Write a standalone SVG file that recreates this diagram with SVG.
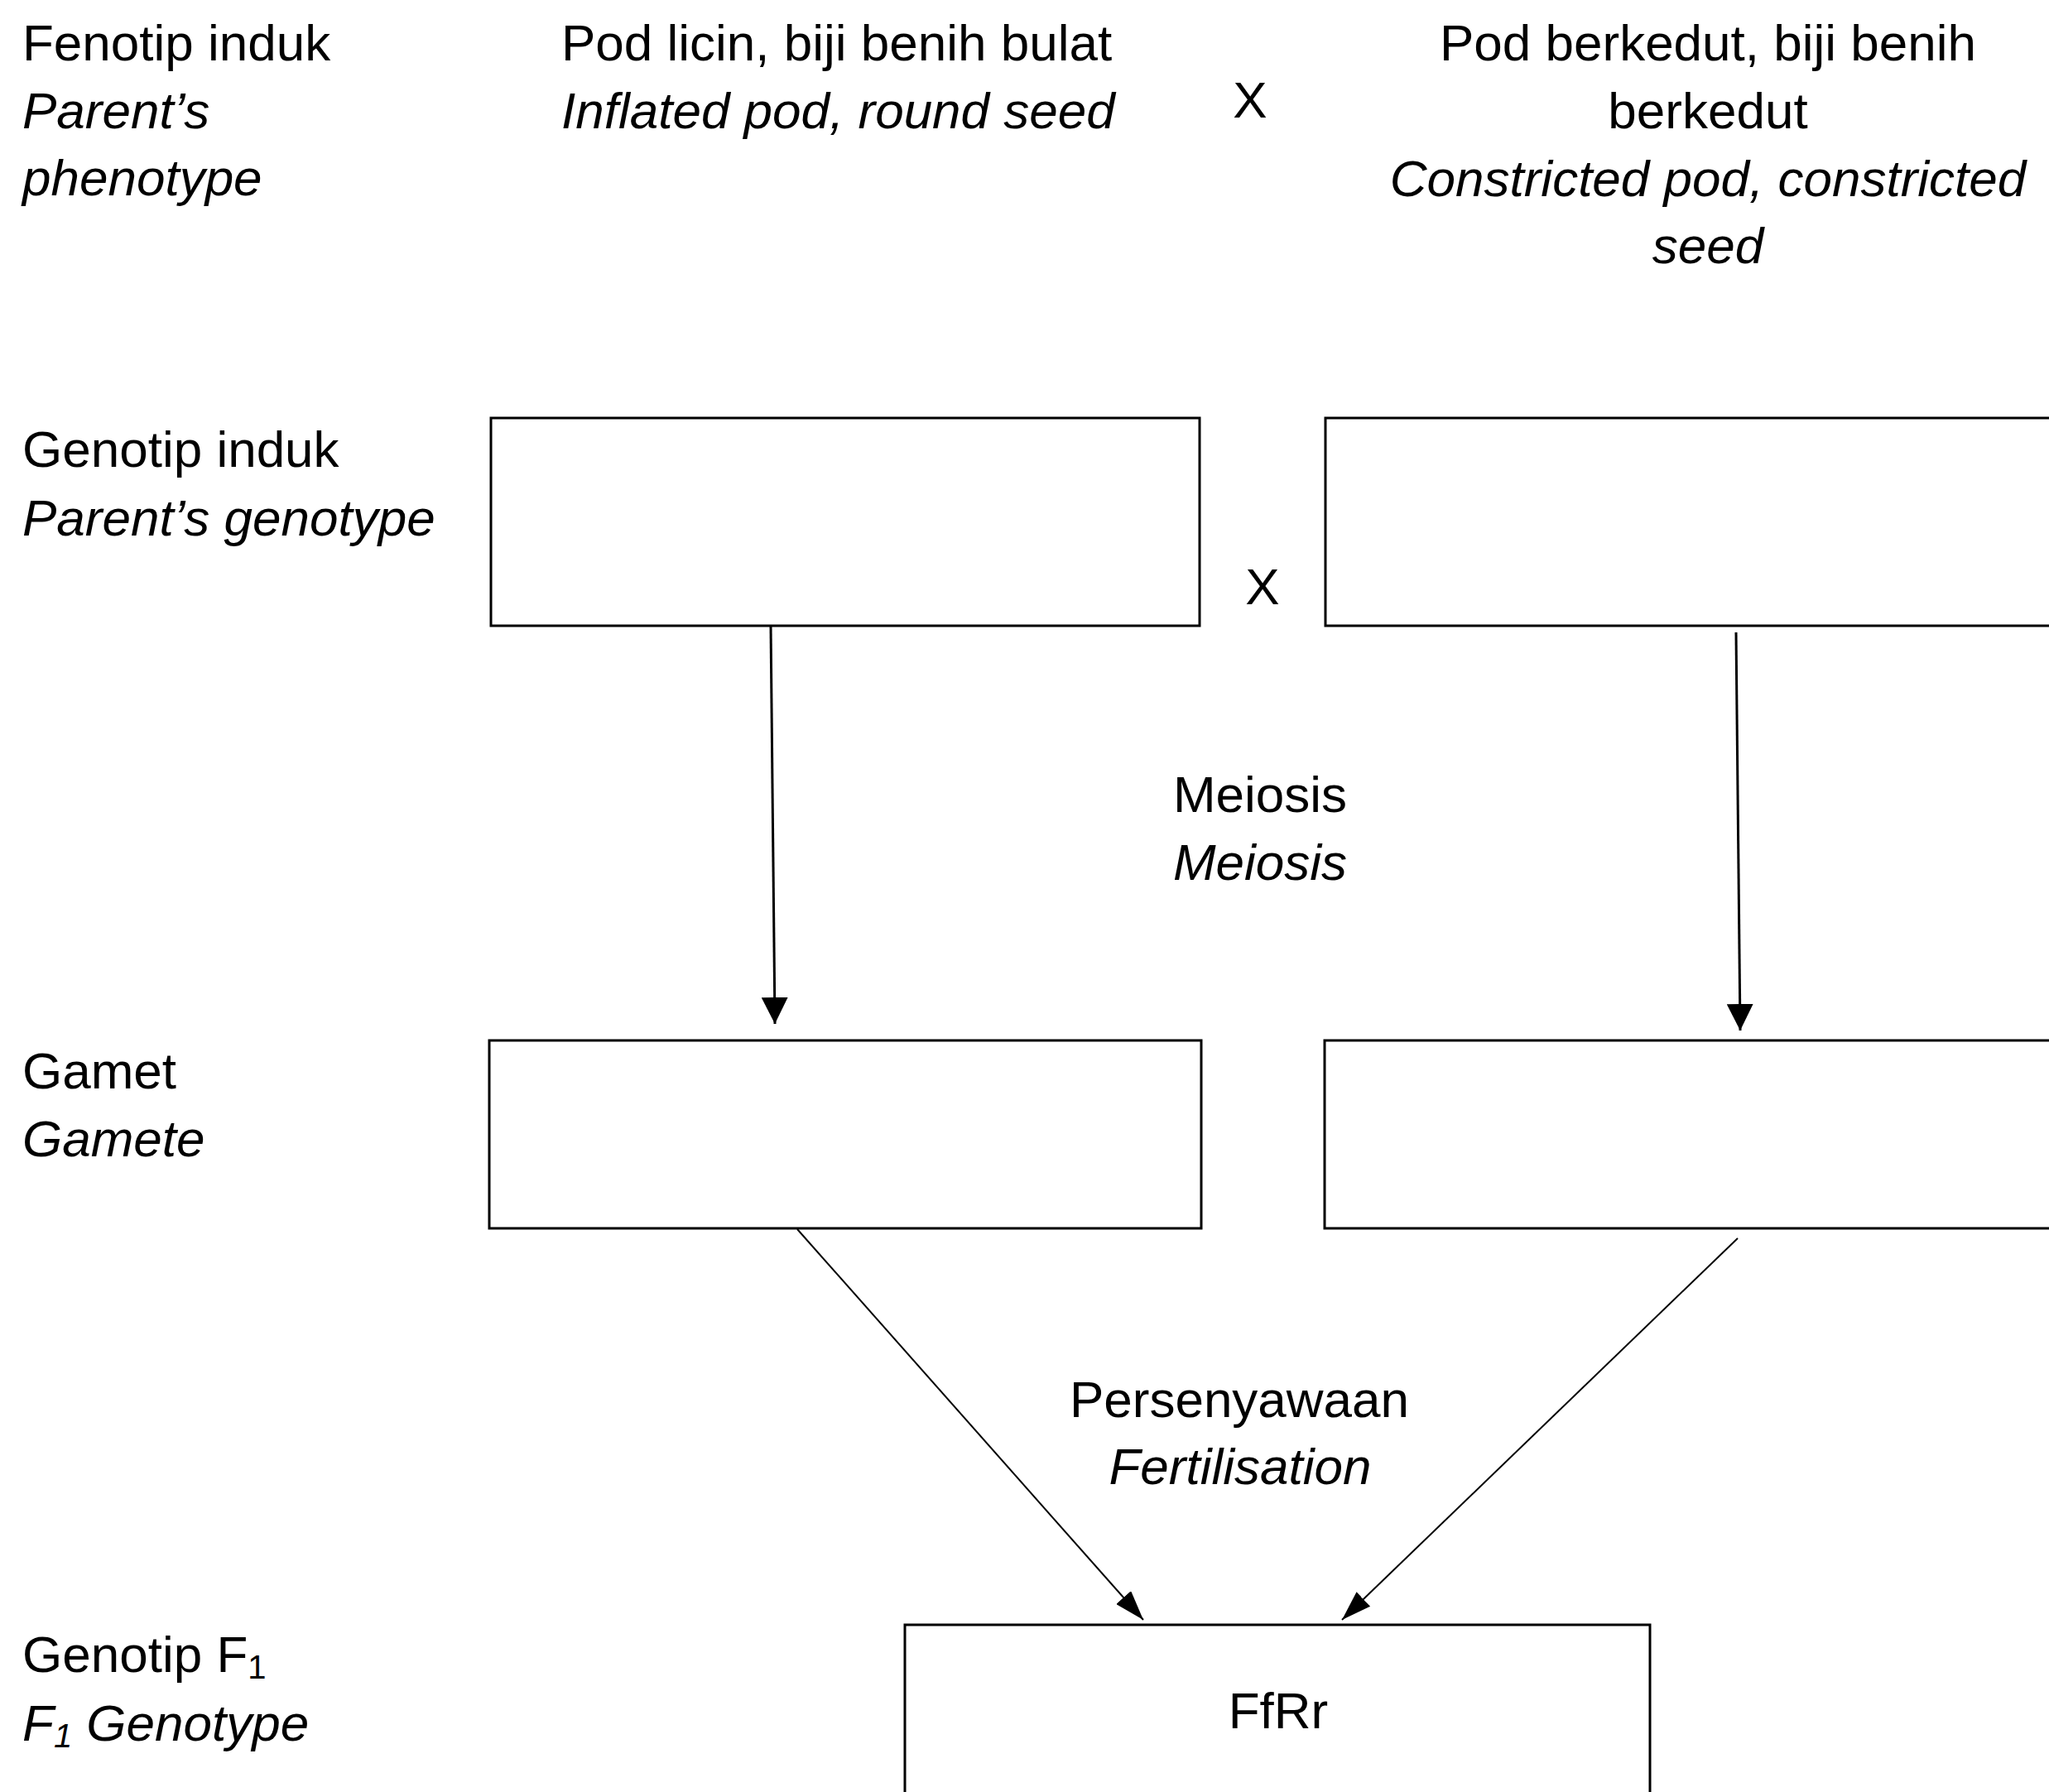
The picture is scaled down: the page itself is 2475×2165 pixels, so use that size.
<svg xmlns="http://www.w3.org/2000/svg" width="2475" height="2165" viewBox="0 0 2475 2165">
<defs>
<style>
text{font-family:"Liberation Sans",Arial,sans-serif;font-size:62px;fill:#000}
.i{font-style:italic}
.c{text-anchor:middle}
.box{fill:#fff;stroke:#000;stroke-width:3}
.v{stroke:#000;stroke-width:3;fill:none}
.d{stroke:#000;stroke-width:2;fill:none}
.sub{font-size:40px}
</style>
<marker id="ah" markerUnits="userSpaceOnUse" markerWidth="32" markerHeight="32" refX="32" refY="16" orient="auto">
<path d="M0,0 L32,16 L0,32 z" fill="#000"/>
</marker>
<marker id="ahs" markerUnits="userSpaceOnUse" markerWidth="36" markerHeight="24" refX="36" refY="12" orient="auto">
<path d="M0,0 L36,12 L0,24 z" fill="#000"/>
</marker>
</defs>
<rect width="2475" height="2165" fill="#fff"/>
<g id="labels">
<text x="27" y="73">Fenotip induk</text>
<text x="27" y="155" class="i">Parent’s</text>
<text x="27" y="236" class="i">phenotype</text>
<text x="27" y="564">Genotip induk</text>
<text x="27" y="647" class="i">Parent’s genotype</text>
<text x="27" y="1315">Gamet</text>
<text x="27" y="1397" class="i">Gamete</text>
<text x="27" y="2020">Genotip F<tspan class="sub" dy="8">1</tspan></text>
<text x="27" y="2103" class="i">F<tspan class="sub" dy="8">1</tspan><tspan dy="-8"> Genotype</tspan></text>
</g>
<g id="phenotype-left">
<text x="678" y="73">Pod licin, biji benih bulat</text>
<text x="678" y="155" class="i">Inflated pod, round seed</text>
</g>
<g id="cross-top"><text x="1510" y="142" class="c">X</text></g>
<g id="phenotype-right">
<text x="2063" y="73" class="c">Pod berkedut, biji benih</text>
<text x="2063" y="155" class="c">berkedut</text>
<text x="2063" y="237" class="c i">Constricted pod, constricted</text>
<text x="2063" y="318" class="c i">seed</text>
</g>
<g id="genotype-left"><rect class="box" x="593" y="505" width="856" height="251"/></g>
<g id="cross-mid"><text x="1525" y="730" class="c">X</text></g>
<g id="genotype-right"><rect class="box" x="1601" y="505" width="900" height="251"/></g>
<g id="meiosis-label">
<text x="1522" y="981" class="c">Meiosis</text>
<text x="1522" y="1063" class="c i">Meiosis</text>
</g>
<g id="gamete-left"><rect class="box" x="591" y="1257" width="860" height="227"/></g>
<g id="gamete-right"><rect class="box" x="1600" y="1257" width="900" height="227"/></g>
<g id="fertilisation-label">
<text x="1497" y="1712" class="c">Persenyawaan</text>
<text x="1498" y="1793" class="c i">Fertilisation</text>
</g>
<g id="f1"><rect class="box" x="1093" y="1963" width="900" height="260"/>
<text x="1544" y="2088" class="c">FfRr</text></g>
<g id="connectors">
<line class="v" x1="931" y1="756" x2="936" y2="1237" marker-end="url(#ah)"/>
<line class="v" x1="2097" y1="764" x2="2102" y2="1245" marker-end="url(#ah)"/>
<line class="d" x1="963" y1="1485" x2="1381" y2="1957" marker-end="url(#ahs)"/>
<line class="d" x1="2099" y1="1496" x2="1621" y2="1957" marker-end="url(#ahs)"/>
</g>
</svg>
